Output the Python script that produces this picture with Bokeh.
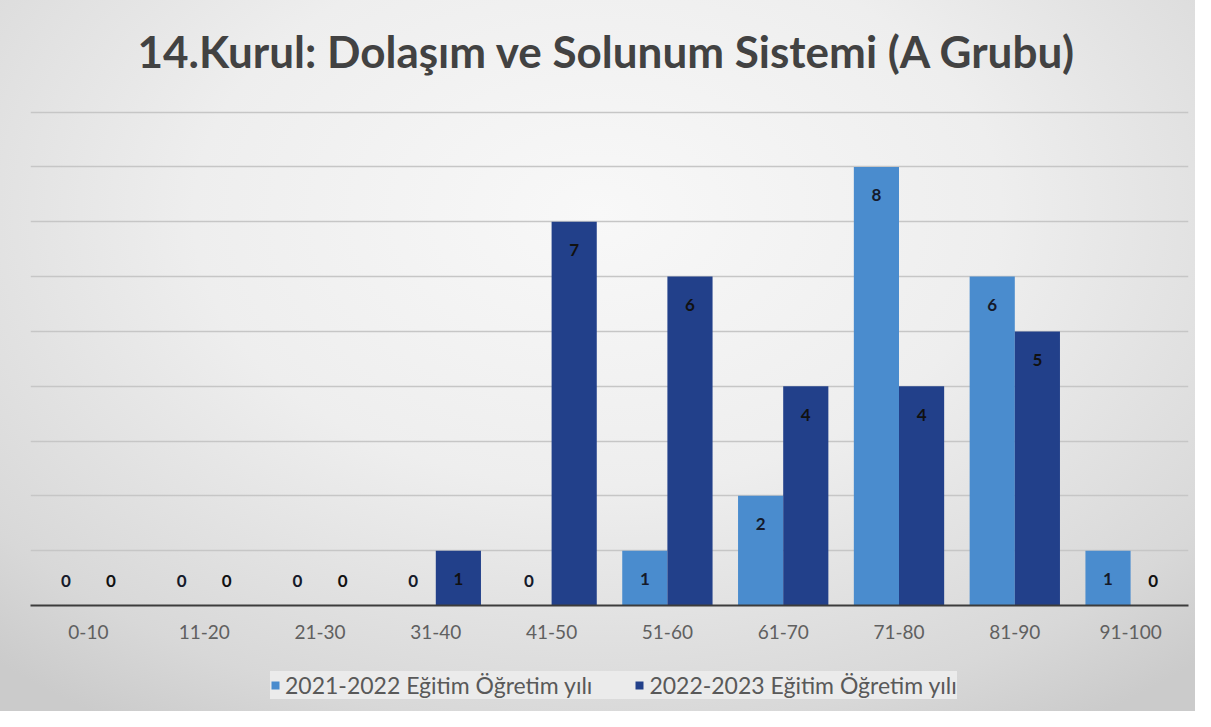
from bokeh.plotting import figure
from bokeh.layouts import column
from bokeh.models import ColumnDataSource, FactorRange, FixedTicker, Legend, LegendItem, Label
from bokeh.transform import dodge
from bokeh.core.properties import value
from bokeh.embed import file_html
from bokeh.resources import INLINE

categories = ["0-10", "11-20", "21-30", "31-40", "41-50", "51-60", "61-70", "71-80", "81-90", "91-100"]
series_2021 = [0, 0, 0, 0, 0, 1, 2, 8, 6, 1]
series_2022 = [0, 0, 0, 1, 7, 6, 4, 4, 5, 0]
series_names = ["2021-2022 Eğitim Öğretim yılı", "2022-2023 Eğitim Öğretim yılı"]
title_text = "14.Kurul: Dolaşım ve Solunum Sistemi (A Grubu)"

LIGHT = "#4a8cce"
DARK = "#22408a"
FONT = "Lato"
W = 1195

def label_y(vals):
    return [v - 0.52 if v > 0 else 0.45 for v in vals]

src = ColumnDataSource(dict(
    cat=categories,
    s1=series_2021, s2=series_2022,
    s1_lab=[str(v) for v in series_2021], s2_lab=[str(v) for v in series_2022],
    s1_y=label_y(series_2021), s2_y=label_y(series_2022),
))

def strip(height, **kw):
    f = figure(width=W, height=height, output_backend="svg", toolbar_location=None,
               min_border_left=0, min_border_right=0, min_border_top=0, min_border_bottom=0, **kw)
    f.axis.visible = False
    f.grid.visible = False
    f.outline_line_color = None
    f.background_fill_alpha = 0
    f.border_fill_alpha = 0
    return f

# ---- title strip ----
p0 = strip(100, x_range=(0, W), y_range=(0, 100))
p0.add_layout(Label(x=595, y=50, text=title_text, text_align="center", text_baseline="middle",
                    text_font=FONT, text_font_style="bold", text_font_size="44px",
                    text_color="#424242"))

# ---- main chart ----
p = figure(frame_width=1158, frame_height=495, title=None,
           x_range=FactorRange(factors=categories, range_padding=0),
           y_range=(0, 9.03), output_backend="svg", toolbar_location=None,
           min_border_left=30, min_border_right=7, min_border_top=10, min_border_bottom=50)
p.background_fill_alpha = 0
p.border_fill_alpha = 0
p.outline_line_color = None

bw = 0.39
p.vbar(x=dodge("cat", -bw / 2, range=p.x_range), top="s1", width=bw, source=src,
       fill_color=LIGHT, line_color=None)
p.vbar(x=dodge("cat", bw / 2, range=p.x_range), top="s2", width=bw, source=src,
       fill_color=DARK, line_color=None)

p.text(x=dodge("cat", -bw / 2, range=p.x_range), y="s1_y", text="s1_lab", source=src,
       text_align="center", text_baseline="middle", text_font=value(FONT),
       text_font_style="bold", text_font_size="17px", text_color="#151a2a")
p.text(x=dodge("cat", bw / 2, range=p.x_range), y="s2_y", text="s2_lab", source=src,
       text_align="center", text_baseline="middle", text_font=value(FONT),
       text_font_style="bold", text_font_size="17px", text_color="#111111")

p.yaxis.visible = False
p.xgrid.visible = False
p.ygrid.ticker = FixedTicker(ticks=list(range(0, 10)))
p.ygrid.grid_line_color = "#c6c6c6"
p.ygrid.grid_line_width = 1.5

xa = p.xaxis[0]
xa.axis_line_color = "#3c3c3c"
xa.axis_line_width = 2
xa.major_tick_line_color = None
xa.minor_tick_line_color = None
xa.major_label_text_font = FONT
xa.major_label_text_font_size = "19px"
xa.major_label_text_color = "#606060"
xa.major_label_standoff = 13

# ---- legend strip (same series, drawn outside the strip's visible range) ----
p2 = strip(56, x_range=FactorRange(factors=categories, range_padding=0), y_range=(100, 101))
l1 = p2.vbar(x=dodge("cat", -bw / 2, range=p2.x_range), top="s1", width=bw, source=src,
             fill_color=LIGHT, line_color=None)
l2 = p2.vbar(x=dodge("cat", bw / 2, range=p2.x_range), top="s2", width=bw, source=src,
             fill_color=DARK, line_color=None)

legend = Legend(items=[LegendItem(label=series_names[0], renderers=[l1]),
                       LegendItem(label=series_names[1], renderers=[l2])],
                orientation="horizontal", location=(240, 12))
legend.label_text_font = FONT
legend.label_text_font_size = "23px"
legend.label_text_color = "#595959"
legend.glyph_width = 10
legend.glyph_height = 10
legend.label_width = 300
legend.spacing = 42
legend.padding = 9
legend.margin = 0
legend.label_standoff = 5
legend.background_fill_color = "#ebebeb"
legend.background_fill_alpha = 1
legend.border_line_color = None
p2.add_layout(legend, "center")

layout = column(p0, p, p2, spacing=0)
layout.styles = {"background": "radial-gradient(ellipse 75% 85% at 50% 30%, #f8f8f8 0%, #eeeeee 45%, #d8d8d8 85%, #cbcbcb 100%)"}

open("out.html", "w").write(file_html(layout, INLINE))
